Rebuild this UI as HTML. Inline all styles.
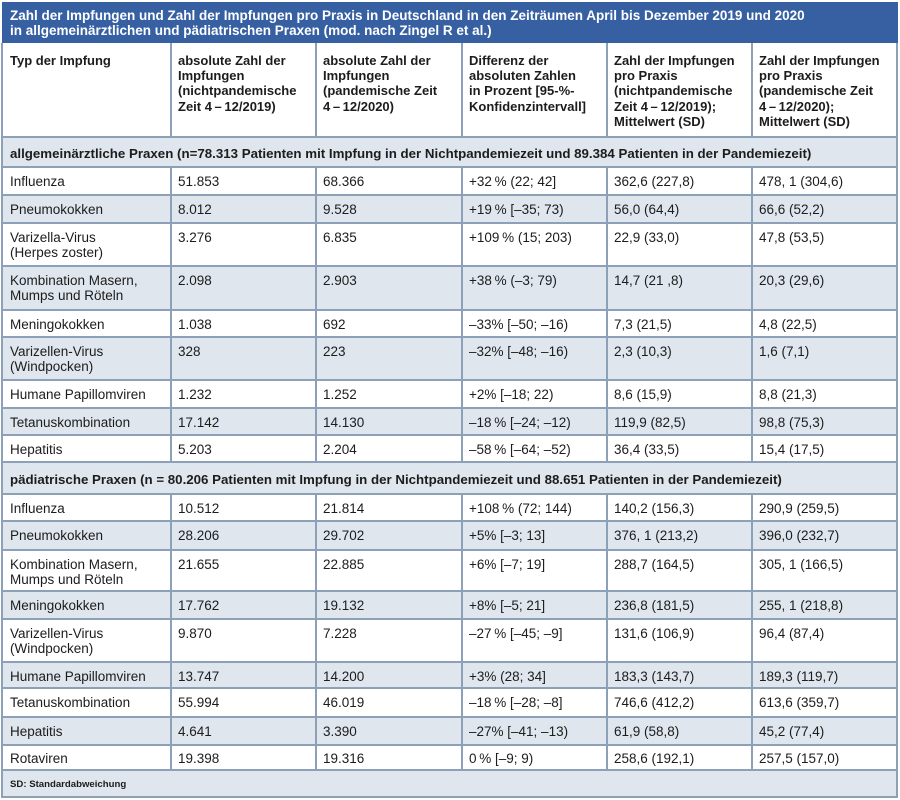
<!DOCTYPE html>
<html><head><meta charset="utf-8">
<style>
html,body{margin:0;padding:0;background:#fff;}
body{width:900px;height:800px;position:relative;overflow:hidden;font-family:"Liberation Sans",sans-serif;color:#1c1c1c;}
.title{position:absolute;left:2px;top:2px;width:896px;height:41px;background:#3760a3;color:#fff;font-weight:bold;font-size:13.5px;line-height:15px;box-sizing:border-box;padding:6px 0 0 8px;white-space:nowrap;}
.row{position:absolute;left:2px;width:895px;}
.sh{background:#dfe6ee;}
.c{position:absolute;top:0;white-space:nowrap;font-size:13.5px;line-height:15.5px;padding-top:6.5px;}
.hd .c{font-weight:bold;font-size:13px;line-height:15.2px;padding-top:10px;}
.grp{font-weight:bold;font-size:13.3px;line-height:15px;padding:9px 0 0 8px;box-sizing:border-box;white-space:nowrap;}
.foot{font-weight:bold;font-size:9.6px;line-height:12px;padding:9px 0 0 8px;box-sizing:border-box;white-space:nowrap;}
.c1{left:8px}.c2{left:176px}.c3{left:321px}.c4{left:467px}.c5{left:612px}.c6{left:757px}
.hl{position:absolute;left:1px;width:897px;height:2px;background:#8ca1b7;}
.vl{position:absolute;width:2px;background:#8ca1b7;}
</style></head><body>
<div class="title">Zahl der Impfungen und Zahl der Impfungen pro Praxis in Deutschland in den Zeiträumen April bis Dezember 2019 und 2020<br>in allgemeinärztlichen und pädiatrischen Praxen (mod. nach Zingel R et al.)</div>

<div class="row hd" style="top:43px;height:94px;">
<div class="c c1">Typ der Impfung</div>
<div class="c c2">absolute Zahl der<br>Impfungen<br>(nichtpandemische<br>Zeit 4&thinsp;–&thinsp;12/2019)</div>
<div class="c c3">absolute Zahl der<br>Impfungen<br>(pandemische Zeit<br>4&thinsp;–&thinsp;12/2020)</div>
<div class="c c4">Differenz der<br>absoluten Zahlen<br>in Prozent [95-%-<br>Konfidenzintervall]</div>
<div class="c c5">Zahl der Impfungen<br>pro Praxis<br>(nichtpandemische<br>Zeit 4&thinsp;–&thinsp;12/2019);<br>Mittelwert (SD)</div>
<div class="c c6">Zahl der Impfungen<br>pro Praxis<br>(pandemische Zeit<br>4&thinsp;–&thinsp;12/2020);<br>Mittelwert (SD)</div>
</div>

<div class="row sh grp" style="top:137px;height:30px;">allgemeinärztliche Praxen (n=78.313 Patienten mit Impfung in der Nichtpandemiezeit und 89.384 Patienten in der Pandemiezeit)</div>

<div class="row" style="top:167px;height:28px;"><div class="c c1">Influenza</div><div class="c c2">51.853</div><div class="c c3">68.366</div><div class="c c4">+32&thinsp;% (22; 42]</div><div class="c c5">362,6 (227,8)</div><div class="c c6">478, 1 (304,6)</div></div>
<div class="row sh" style="top:195px;height:28px;"><div class="c c1">Pneumokokken</div><div class="c c2">8.012</div><div class="c c3">9.528</div><div class="c c4">+19&thinsp;% [–35; 73)</div><div class="c c5">56,0 (64,4)</div><div class="c c6">66,6 (52,2)</div></div>
<div class="row" style="top:223px;height:43px;"><div class="c c1">Varizella-Virus<br>(Herpes zoster)</div><div class="c c2">3.276</div><div class="c c3">6.835</div><div class="c c4">+109&thinsp;% (15; 203)</div><div class="c c5">22,9 (33,0)</div><div class="c c6">47,8 (53,5)</div></div>
<div class="row sh" style="top:266px;height:44px;"><div class="c c1">Kombination Masern,<br>Mumps und Röteln</div><div class="c c2">2.098</div><div class="c c3">2.903</div><div class="c c4">+38&thinsp;% (–3; 79)</div><div class="c c5">14,7 (21 ,8)</div><div class="c c6">20,3 (29,6)</div></div>
<div class="row" style="top:310px;height:27px;"><div class="c c1">Meningokokken</div><div class="c c2">1.038</div><div class="c c3">692</div><div class="c c4">–33% [–50; –16)</div><div class="c c5">7,3 (21,5)</div><div class="c c6">4,8 (22,5)</div></div>
<div class="row sh" style="top:337px;height:43px;"><div class="c c1">Varizellen-Virus<br>(Windpocken)</div><div class="c c2">328</div><div class="c c3">223</div><div class="c c4">–32% [–48; –16)</div><div class="c c5">2,3 (10,3)</div><div class="c c6">1,6 (7,1)</div></div>
<div class="row" style="top:380px;height:28px;"><div class="c c1">Humane Papillomviren</div><div class="c c2">1.232</div><div class="c c3">1.252</div><div class="c c4">+2% [–18; 22)</div><div class="c c5">8,6 (15,9)</div><div class="c c6">8,8 (21,3)</div></div>
<div class="row sh" style="top:408px;height:27px;"><div class="c c1">Tetanuskombination</div><div class="c c2">17.142</div><div class="c c3">14.130</div><div class="c c4">–18&thinsp;% [–24; –12)</div><div class="c c5">119,9 (82,5)</div><div class="c c6">98,8 (75,3)</div></div>
<div class="row" style="top:435px;height:27px;"><div class="c c1">Hepatitis</div><div class="c c2">5.203</div><div class="c c3">2.204</div><div class="c c4">–58&thinsp;% [–64; –52)</div><div class="c c5">36,4 (33,5)</div><div class="c c6">15,4 (17,5)</div></div>

<div class="row sh grp" style="top:462px;height:32px;padding-top:10px;">pädiatrische Praxen (n = 80.206 Patienten mit Impfung in der Nichtpandemiezeit und 88.651 Patienten in der Pandemiezeit)</div>

<div class="row" style="top:494px;height:27px;"><div class="c c1">Influenza</div><div class="c c2">10.512</div><div class="c c3">21.814</div><div class="c c4">+108&thinsp;% (72; 144)</div><div class="c c5">140,2 (156,3)</div><div class="c c6">290,9 (259,5)</div></div>
<div class="row sh" style="top:521px;height:29px;"><div class="c c1">Pneumokokken</div><div class="c c2">28.206</div><div class="c c3">29.702</div><div class="c c4">+5% [–3; 13]</div><div class="c c5">376, 1 (213,2)</div><div class="c c6">396,0 (232,7)</div></div>
<div class="row" style="top:550px;height:41px;"><div class="c c1">Kombination Masern,<br>Mumps und Röteln</div><div class="c c2">21.655</div><div class="c c3">22.885</div><div class="c c4">+6% [–7; 19]</div><div class="c c5">288,7 (164,5)</div><div class="c c6">305, 1 (166,5)</div></div>
<div class="row sh" style="top:591px;height:28px;"><div class="c c1">Meningokokken</div><div class="c c2">17.762</div><div class="c c3">19.132</div><div class="c c4">+8% [–5; 21]</div><div class="c c5">236,8 (181,5)</div><div class="c c6">255, 1 (218,8)</div></div>
<div class="row" style="top:619px;height:43px;"><div class="c c1">Varizellen-Virus<br>(Windpocken)</div><div class="c c2">9.870</div><div class="c c3">7.228</div><div class="c c4">–27&thinsp;% [–45; –9]</div><div class="c c5">131,6 (106,9)</div><div class="c c6">96,4 (87,4)</div></div>
<div class="row sh" style="top:662px;height:26px;"><div class="c c1">Humane Papillomviren</div><div class="c c2">13.747</div><div class="c c3">14.200</div><div class="c c4">+3% (28; 34]</div><div class="c c5">183,3 (143,7)</div><div class="c c6">189,3 (119,7)</div></div>
<div class="row" style="top:688px;height:29px;"><div class="c c1">Tetanuskombination</div><div class="c c2">55.994</div><div class="c c3">46.019</div><div class="c c4">–18&thinsp;% [–28; –8]</div><div class="c c5">746,6 (412,2)</div><div class="c c6">613,6 (359,7)</div></div>
<div class="row sh" style="top:717px;height:28px;"><div class="c c1">Hepatitis</div><div class="c c2">4.641</div><div class="c c3">3.390</div><div class="c c4">–27% [–41; –13)</div><div class="c c5">61,9 (58,8)</div><div class="c c6">45,2 (77,4)</div></div>
<div class="row" style="top:745px;height:25px;"><div class="c c1" style="padding-top:5.5px">Rotaviren</div><div class="c c2" style="padding-top:5.5px">19.398</div><div class="c c3" style="padding-top:5.5px">19.316</div><div class="c c4" style="padding-top:5.5px">0&thinsp;% [–9; 9)</div><div class="c c5" style="padding-top:5.5px">258,6 (192,1)</div><div class="c c6" style="padding-top:5.5px">257,5 (157,0)</div></div>

<div class="row sh foot" style="top:770px;height:27px;">SD: Standardabweichung</div>

<!-- horizontal lines -->
<div class="hl" style="top:136px"></div>
<div class="hl" style="top:166px"></div>
<div class="hl" style="top:194px"></div>
<div class="hl" style="top:222px"></div>
<div class="hl" style="top:265px"></div>
<div class="hl" style="top:309px"></div>
<div class="hl" style="top:336px"></div>
<div class="hl" style="top:379px"></div>
<div class="hl" style="top:407px"></div>
<div class="hl" style="top:434px"></div>
<div class="hl" style="top:461px"></div>
<div class="hl" style="top:493px"></div>
<div class="hl" style="top:520px"></div>
<div class="hl" style="top:549px"></div>
<div class="hl" style="top:590px"></div>
<div class="hl" style="top:618px"></div>
<div class="hl" style="top:661px"></div>
<div class="hl" style="top:687px"></div>
<div class="hl" style="top:716px"></div>
<div class="hl" style="top:744px"></div>
<div class="hl" style="top:769px"></div>
<div class="hl" style="top:796px"></div>

<!-- outer verticals -->
<div class="vl" style="left:1px;top:43px;height:755px"></div>
<div class="vl" style="left:896px;top:43px;height:755px"></div>

<!-- inner verticals: header -->
<div class="vl" style="left:170px;top:43px;height:94px"></div>
<div class="vl" style="left:315px;top:43px;height:94px"></div>
<div class="vl" style="left:461px;top:43px;height:94px"></div>
<div class="vl" style="left:606px;top:43px;height:94px"></div>
<div class="vl" style="left:751px;top:43px;height:94px"></div>
<!-- group 1 -->
<div class="vl" style="left:170px;top:167px;height:295px"></div>
<div class="vl" style="left:315px;top:167px;height:295px"></div>
<div class="vl" style="left:461px;top:167px;height:295px"></div>
<div class="vl" style="left:606px;top:167px;height:295px"></div>
<div class="vl" style="left:751px;top:167px;height:295px"></div>
<!-- group 2 -->
<div class="vl" style="left:170px;top:494px;height:276px"></div>
<div class="vl" style="left:315px;top:494px;height:276px"></div>
<div class="vl" style="left:461px;top:494px;height:276px"></div>
<div class="vl" style="left:606px;top:494px;height:276px"></div>
<div class="vl" style="left:751px;top:494px;height:276px"></div>
</body></html>
